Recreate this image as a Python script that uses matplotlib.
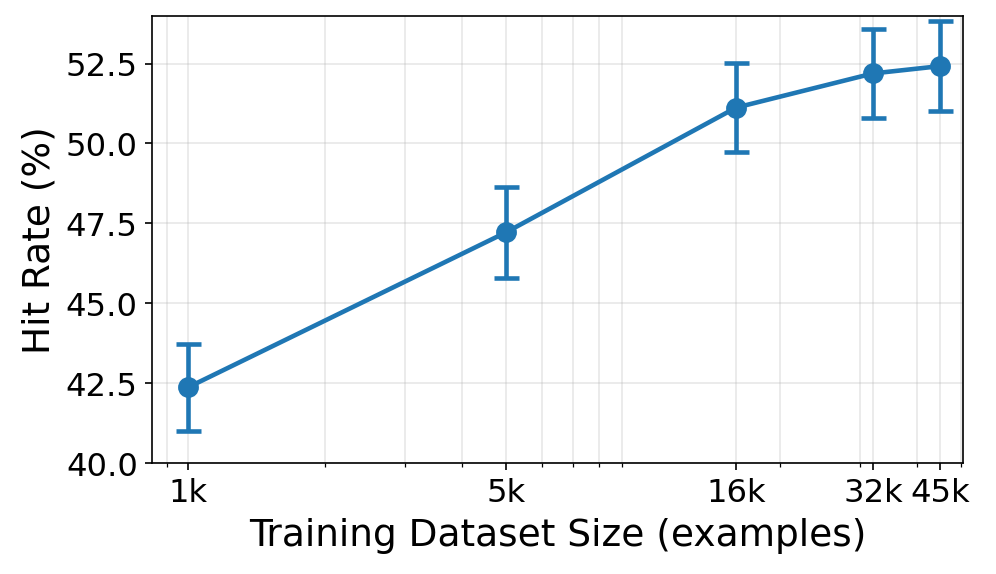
import matplotlib
matplotlib.use("Agg")
import matplotlib.pyplot as plt
from matplotlib.ticker import NullFormatter, MultipleLocator

sizes = [1000, 5000, 16000, 32000, 45000]
size_labels = ['1k', '5k', '16k', '32k', '45k']
hit_rate = [42.37, 47.22, 51.12, 52.19, 52.42]
hit_err = [1.37, 1.43, 1.40, 1.40, 1.40]

fig, ax = plt.subplots(figsize=(6.64, 3.83), dpi=150)
ax.errorbar(sizes, hit_rate, yerr=hit_err, color='#1f77b4', marker='o',
            markersize=9, linewidth=2.2, elinewidth=2.2, capsize=6, capthick=2.2)

ax.set_xscale('log')
ax.set_xticks(sizes)
ax.set_xticklabels(size_labels)
ax.xaxis.set_minor_formatter(NullFormatter())
ax.yaxis.set_major_locator(MultipleLocator(2.5))
ax.set_xlim(835, 50500)
ax.set_ylim(40, 54)
ax.tick_params(labelsize=15.5)
ax.set_xlabel('Training Dataset Size (examples)', fontsize=18)
ax.set_ylabel('Hit Rate (%)', fontsize=18)
ax.grid(True, which='both', alpha=0.3)

fig.subplots_adjust(left=0.153, right=0.967, top=0.972, bottom=0.193)
plt.savefig('out.png', dpi=150)
